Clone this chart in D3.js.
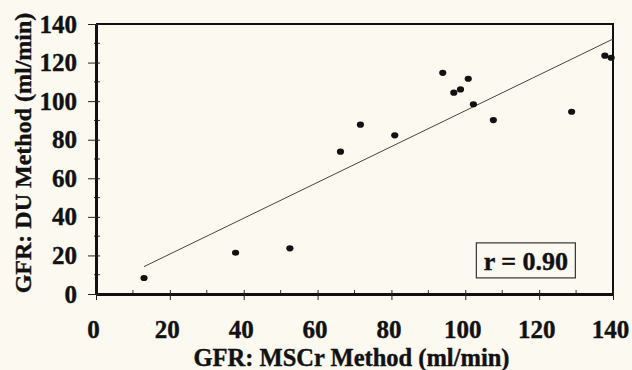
<!DOCTYPE html>
<html>
<head>
<meta charset="utf-8">
<script src="https://cdn.jsdelivr.net/npm/d3@7"></script>
<style>
  html, body { margin: 0; padding: 0; background: #fcfaf0; }
  svg { display: block; }
  text { font-family: "Liberation Serif", "Times New Roman", serif; font-weight: bold; fill: #111; stroke: #111; stroke-width: 0.4px; }
</style>
</head>
<body>
<div id="chart"></div>
<script>
// GFR by DU method vs MSCr method
const msCr = [13.0, 37.8, 52.5, 66.2, 71.6, 80.9, 93.9, 96.9, 98.7, 100.8, 102.2, 107.6, 128.8, 137.8, 139.5];
const du   = [8.3, 21.4, 23.7, 73.8, 87.8, 82.3, 114.7, 104.4, 106.1, 111.6, 98.4, 90.2, 94.5, 123.6, 122.5];
const fitX = [13, 140];
const fitY = [14.2, 132.2];
const xTicks = [0, 20, 40, 60, 80, 100, 120, 140];
const yTicks = [0, 20, 40, 60, 80, 100, 120, 140];
const minorTicks = [10, 30, 50, 70, 90, 110, 130];
const rLabel = "r = 0.90";

const width = 632, height = 370;
const m = { top: 24, right: 19, bottom: 76, left: 96 };
const font = "'Liberation Serif', 'Times New Roman', serif";

const svg = d3.select("#chart").append("svg")
  .attr("width", width).attr("height", height);

const x = d3.scaleLinear().domain([0, 140]).range([m.left, width - m.right]);
const y = d3.scaleLinear().domain([0, 140]).range([height - m.bottom, m.top]);

// frame: top and right edges
svg.append("path")
  .attr("d", `M${x(0)},${y(140)}H${x(140)}V${y(0)}`)
  .attr("fill", "none").attr("stroke", "#111").attr("stroke-width", 2);

// minor ticks
svg.append("g").selectAll("line").data(minorTicks).join("line")
  .attr("x1", (d) => x(d)).attr("x2", (d) => x(d))
  .attr("y1", y(0) - 4).attr("y2", y(0) + 2)
  .attr("stroke", "#333").attr("stroke-width", 1);
svg.append("g").selectAll("line").data(minorTicks).join("line")
  .attr("y1", (d) => y(d)).attr("y2", (d) => y(d))
  .attr("x1", x(0) - 2).attr("x2", x(0) + 4)
  .attr("stroke", "#333").attr("stroke-width", 1);

// x axis
svg.append("g")
  .attr("transform", `translate(0,${y(0)})`)
  .call(d3.axisBottom(x).tickValues(xTicks).tickSize(6).tickPadding(20).tickSizeOuter(0))
  .call((g) => g.select(".domain").attr("stroke", "#111").attr("stroke-width", 3))
  .call((g) => g.selectAll(".tick line").attr("y1", -4).attr("stroke", "#222"))
  .selectAll("text")
  .attr("dx", -3)
  .style("font-family", font).style("font-size", "25px");

// y axis
svg.append("g")
  .attr("transform", `translate(${x(0)},0)`)
  .call(d3.axisLeft(y).tickValues(yTicks).tickSize(8).tickPadding(11).tickSizeOuter(0))
  .call((g) => g.select(".domain").attr("stroke", "#111").attr("stroke-width", 3))
  .call((g) => g.selectAll(".tick line").attr("x1", 4).attr("stroke", "#222"))
  .selectAll("text")
  .style("font-family", font).style("font-size", "25px");

// regression line
svg.append("line")
  .attr("x1", x(fitX[0])).attr("y1", y(fitY[0]))
  .attr("x2", x(fitX[1])).attr("y2", y(fitY[1]))
  .attr("stroke", "#444").attr("stroke-width", 1);

// points
svg.append("g").selectAll("ellipse").data(msCr).join("ellipse")
  .attr("cx", (d) => x(d))
  .attr("cy", (d, i) => y(du[i]))
  .attr("rx", 3.6).attr("ry", 3.1)
  .attr("fill", "#111");

// r box
const bx = x(103), by = y(26.5);
svg.append("rect")
  .attr("x", bx).attr("y", by)
  .attr("width", 99).attr("height", 35)
  .attr("fill", "none").attr("stroke", "#333").attr("stroke-width", 1.2);
svg.append("text")
  .attr("x", bx + 49.5).attr("y", by + 27)
  .attr("text-anchor", "middle")
  .style("font-size", "26px")
  .text(rLabel);

// axis titles
svg.append("text")
  .attr("x", (x(0) + x(140)) / 2 - 3).attr("y", height - 4)
  .attr("text-anchor", "middle")
  .style("font-size", "24.5px")
  .text("GFR: MSCr Method (ml/min)");

svg.append("text")
  .attr("transform", `translate(31,${(y(0) + y(140)) / 2 - 6}) rotate(-90)`)
  .attr("text-anchor", "middle")
  .style("font-size", "24px")
  .text("GFR: DU Method (ml/min)");
</script>
</body>
</html>
